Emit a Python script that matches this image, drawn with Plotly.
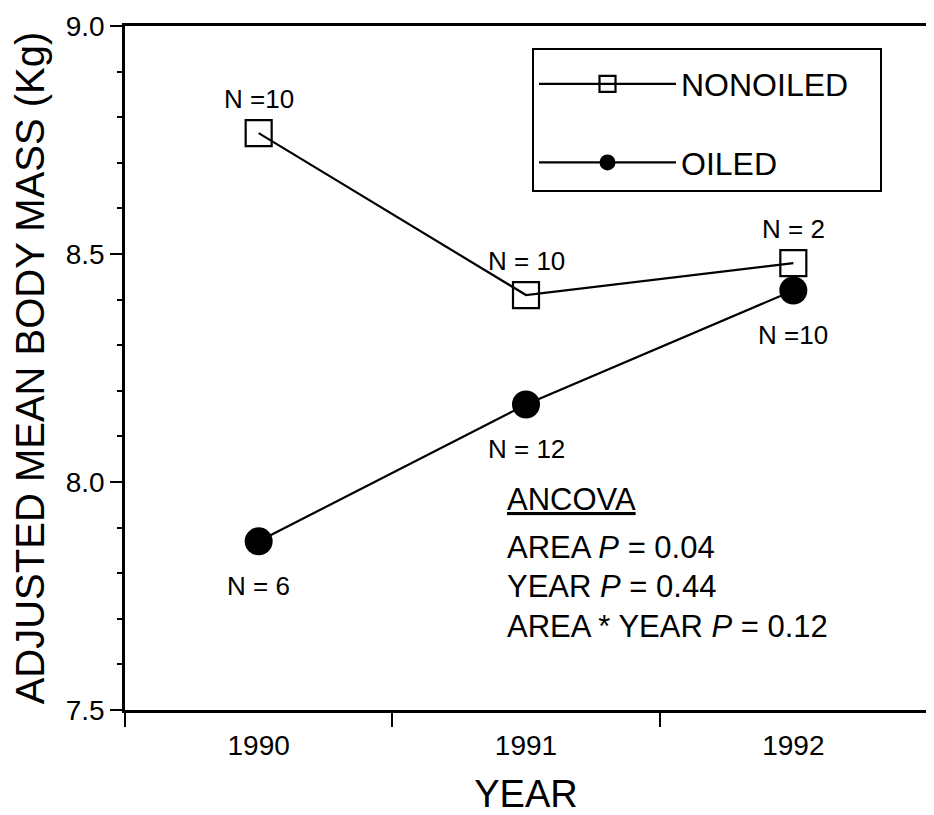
import plotly.graph_objects as go

years = [1990, 1991, 1992]
nonoiled_mass = [8.765, 8.41, 8.48]
oiled_mass = [7.87, 8.17, 8.42]
nonoiled_n_labels = ["N =10", "N = 10", "N = 2"]
oiled_n_labels = ["N = 6", "N = 12", "N =10"]
year_ticks = ["1990", "1991", "1992"]
ancova_lines = ["<u>ANCOVA</u>", "AREA <i>P</i> = 0.04", "YEAR <i>P</i> = 0.44",
                "AREA * YEAR <i>P</i> = 0.12"]

FONT = "Liberation Sans, Arial, Helvetica, sans-serif"
NB = "\u00a0"

# page body has an 8px margin, so the figure is 8px smaller than the window
W, H = 926, 807
L, R, T, B = 117, 7, 18, 105
PW, PH = W - L - R, H - T - B


def px(xp):  # window pixel -> paper x
    return (xp - 8 - L) / PW


def py(yp):  # window pixel -> paper y
    return (H - B - (yp - 8)) / PH


fig = go.Figure()
fig.add_trace(go.Scatter(
    x=years, y=nonoiled_mass, name="NONOILED" + NB * 3, mode="lines+markers",
    legendgroup="a",
    line=dict(color="black", width=2.2),
    marker=dict(symbol="square-open", size=26, color="black", line=dict(width=2.2, color="black")),
))
fig.add_trace(go.Scatter(
    x=years, y=oiled_mass, name="OILED", mode="lines+markers",
    legendgroup="b",
    line=dict(color="black", width=2.2),
    marker=dict(symbol="circle", size=28, color="black"),
))

annots = []
for x, y, t in zip(years, nonoiled_mass, nonoiled_n_labels):
    annots.append(dict(x=x, y=y, text=t, showarrow=False, yshift=34,
                       font=dict(size=26, color="black", family=FONT)))
for x, y, t in zip(years, oiled_mass, oiled_n_labels):
    annots.append(dict(x=x, y=y, text=t, showarrow=False, yshift=-45,
                       font=dict(size=26, color="black", family=FONT)))

ancova_y = [499, 547, 586, 626]
for t, yy in zip(ancova_lines, ancova_y):
    annots.append(dict(xref="paper", yref="paper", x=px(505), y=py(yy),
                       xanchor="left", yanchor="middle", text=t, showarrow=False,
                       font=dict(size=31, color="black", family=FONT)))

fig.update_layout(
    width=W, height=H,
    margin=dict(l=L, r=R, t=T, b=B),
    paper_bgcolor="white", plot_bgcolor="white",
    font=dict(family=FONT, color="black"),
    annotations=annots,
    showlegend=True,
    legend=dict(
        x=px(532), y=py(48), xanchor="left", yanchor="top",
        bordercolor="black", borderwidth=2, bgcolor="white",
        font=dict(size=32, color="black", family=FONT),
        tracegroupgap=34, itemwidth=137,
        title=dict(text=NB, font=dict(size=5)),
    ),
    xaxis=dict(
        range=[1989.5, 1992.5], tickvals=years, ticktext=year_ticks,
        ticks="", showgrid=False, zeroline=False,
        showline=True, linecolor="black", linewidth=2.5, mirror=True,
        tickfont=dict(size=28, color="black", family=FONT),
        ticklabelstandoff=9,
        minor=dict(tickvals=[1989.5, 1990.5, 1991.5, 1992.5], ticks="outside",
                   ticklen=14, tickwidth=2, tickcolor="black"),
        title=dict(text="YEAR", font=dict(size=38, color="black", family=FONT), standoff=22),
        automargin=False,
    ),
    yaxis=dict(
        range=[7.5, 9.0], tick0=7.5, dtick=0.5, tickformat=".1f",
        ticks="outside", ticklen=12, tickwidth=2, tickcolor="black",
        showgrid=False, zeroline=False,
        showline=True, linecolor="black", linewidth=2.5, mirror=True,
        tickfont=dict(size=28, color="black", family=FONT),
        minor=dict(dtick=0.1, ticks="outside", ticklen=5, tickwidth=1.5, tickcolor="black"),
        title=dict(text="ADJUSTED MEAN BODY MASS (Kg)",
                   font=dict(size=40, color="black", family=FONT), standoff=12),
        automargin=False,
    ),
)

fig.write_html("out.html")
